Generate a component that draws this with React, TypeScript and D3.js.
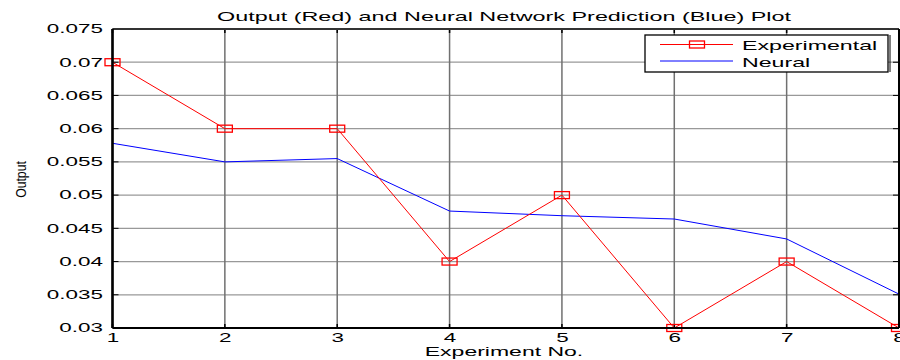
import React from "react";
import * as d3 from "d3";

const experimentNo = [1, 2, 3, 4, 5, 6, 7, 8];
const experimental = [0.07, 0.06, 0.06, 0.04, 0.05, 0.03, 0.04, 0.03];
const neural = [0.0578, 0.055, 0.0555, 0.0476, 0.0469, 0.0464, 0.0434, 0.0351];
const yTicks = [0.03, 0.035, 0.04, 0.045, 0.05, 0.055, 0.06, 0.065, 0.07, 0.075];
const yTickLabels = ["0.03", "0.035", "0.04", "0.045", "0.05", "0.055", "0.06", "0.065", "0.07", "0.075"];
const titleText = "Output (Red) and Neural Network Prediction (Blue) Plot";
const xLabel = "Experiment No.";
const yLabel = "Output";
const legendLabels = ["Experimental", "Neural"];

const W = 900;
const H = 360;
const SX = 1.87;
const FONT = "'Liberation Sans', Arial, sans-serif";

export default function App() {
  const x = d3.scaleLinear().domain([1, 8]).range([112.5, 899]);
  const y = d3.scaleLinear().domain([0.03, 0.075]).range([328, 29]);
  const x0 = x(1), x1 = x(8), y0 = y(0.03), y1 = y(0.075);

  const line = d3
    .line<number>()
    .x((_, i) => x(experimentNo[i]))
    .y((d) => y(d));

  const stretchedText = (
    key: string,
    tx: number,
    ty: number,
    text: string,
    size: number,
    anchor: "start" | "middle" | "end"
  ) => (
    <g key={key} transform={`translate(${tx},${ty}) scale(${SX},1)`}>
      <text x={0} y={0} fontSize={size} fontFamily={FONT} textAnchor={anchor} fill="#000">
        {text}
      </text>
    </g>
  );

  return (
    <div style={{ position: "absolute", left: 0, top: 0, width: W, height: H, background: "#fff" }}>
      <svg width={W} height={H} style={{ display: "block" }}>
        <rect x={0} y={0} width={W} height={H} fill="#fff" />
        {/* horizontal grid */}
        {yTicks.map((t, i) => (
          <line key={"hg" + i} x1={x0} x2={x1} y1={y(t)} y2={y(t)} stroke="#999" strokeWidth={1.2} />
        ))}
        {/* vertical grid */}
        {experimentNo.map((t, i) => (
          <line key={"vg" + i} x1={x(t)} x2={x(t)} y1={y1} y2={y0} stroke="#707070" strokeWidth={1.5} />
        ))}
        {/* ticks */}
        {yTicks.map((t, i) => (
          <g key={"yt" + i}>
            <line x1={x0} x2={x0 + 6} y1={y(t)} y2={y(t)} stroke="#000" strokeWidth={1} />
            <line x1={x1 - 6} x2={x1} y1={y(t)} y2={y(t)} stroke="#000" strokeWidth={1} />
          </g>
        ))}
        {experimentNo.map((t, i) => (
          <g key={"xt" + i}>
            <line x1={x(t)} x2={x(t)} y1={y0} y2={y0 - 4} stroke="#000" strokeWidth={1.5} />
            <line x1={x(t)} x2={x(t)} y1={y1} y2={y1 + 4} stroke="#000" strokeWidth={1.5} />
          </g>
        ))}
        {/* neural line */}
        <path d={line(neural) || ""} fill="none" stroke="#0000ff" strokeWidth={1} />
        {/* experimental line */}
        <path d={line(experimental) || ""} fill="none" stroke="#ff0000" strokeWidth={1} />
        {experimental.map((v, i) => (
          <rect
            key={"m" + i}
            x={x(experimentNo[i]) - 7.5}
            y={y(v) - 3.5}
            width={15}
            height={7}
            fill="none"
            stroke="#ff0000"
            strokeWidth={1.3}
          />
        ))}
        {/* axes box */}
        <line x1={x0} x2={x1} y1={y1} y2={y1} stroke="#333" strokeWidth={2} />
        <line x1={x0} x2={x1} y1={y0} y2={y0} stroke="#000" strokeWidth={2} />
        <line x1={x0} x2={x0} y1={y1} y2={y0} stroke="#000" strokeWidth={2.6} />
        <line x1={x1} x2={x1} y1={y1} y2={y0} stroke="#000" strokeWidth={2} />
        {/* y tick labels */}
        {yTicks.map((t, i) => stretchedText("yl" + i, 103, y(t) + 4.3, yTickLabels[i], 12, "end"))}
        {/* x tick labels */}
        {experimentNo.map((t, i) => stretchedText("xl" + i, x(t) + 0.5, 342, String(t), 12, "middle"))}
        {/* title */}
        {stretchedText("title", 504, 20.5, titleText, 12.5, "middle")}
        {/* x label */}
        {stretchedText("xlab", 504, 355.5, xLabel, 12.3, "middle")}
        {/* y label */}
        <g transform="translate(25.5,179.5) scale(1.25,1) rotate(-90)">
          <text x={0} y={0} fontSize={12.2} fontFamily={FONT} textAnchor="middle" fill="#000">
            {yLabel}
          </text>
        </g>
        {/* legend */}
        <g>
          <rect x={645} y={35} width={243} height={37} fill="#fff" stroke="#000" strokeWidth={1.3} />
          <line x1={890} x2={890} y1={35} y2={72} stroke="#000" strokeWidth={1} />
          <line x1={660} x2={733} y1={44.5} y2={44.5} stroke="#ff0000" strokeWidth={1} />
          <rect x={689.5} y={41} width={15} height={7} fill="none" stroke="#ff0000" strokeWidth={1.3} />
          <line x1={660} x2={733} y1={61} y2={61} stroke="#0000ff" strokeWidth={1} />
          {stretchedText("lg0", 742, 50, legendLabels[0], 12.4, "start")}
          {stretchedText("lg1", 742, 66.7, legendLabels[1], 12.4, "start")}
        </g>
      </svg>
    </div>
  );
}
